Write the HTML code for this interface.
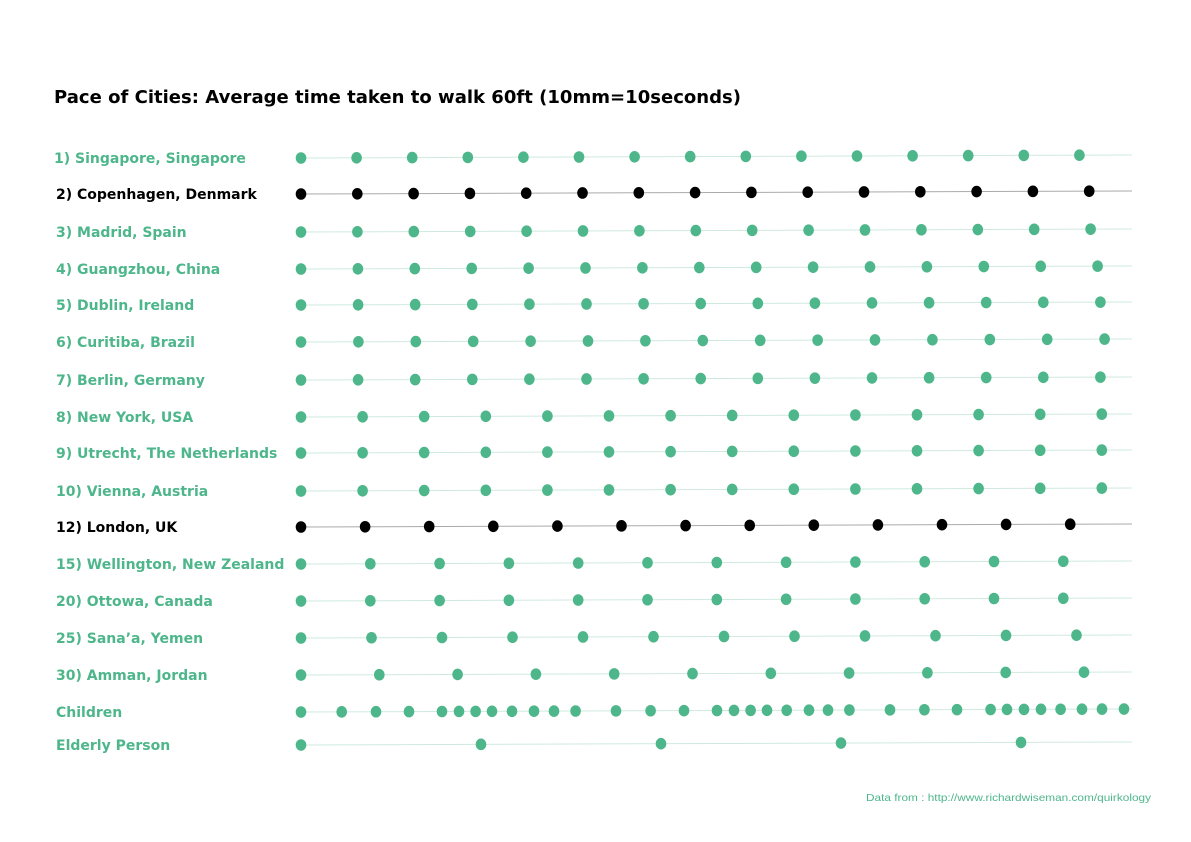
<!DOCTYPE html>
<html><head><meta charset="utf-8"><style>
body{margin:0;background:#fff;}
svg{display:block;font-family:"DejaVu Sans","Liberation Sans",sans-serif;}
</style></head><body>
<svg id="chart" width="1191" height="842">
<text x="54" y="103" font-size="18" font-weight="bold" fill="#000" textLength="687" lengthAdjust="spacingAndGlyphs">Pace of Cities: Average time taken to walk 60ft (10mm=10seconds)</text>
<text x="866" y="801" font-size="10.5" fill="#4db68a" textLength="285" lengthAdjust="spacingAndGlyphs" font-family="'Liberation Sans',sans-serif">Data from : http://www.richardwiseman.com/quirkology</text>
</svg>
<script>
const labels = ["1) Singapore, Singapore","2) Copenhagen, Denmark","3) Madrid, Spain","4) Guangzhou, China","5) Dublin, Ireland","6) Curitiba, Brazil","7) Berlin, Germany","8) New York, USA","9) Utrecht, The Netherlands","10) Vienna, Austria","12) London, UK","15) Wellington, New Zealand","20) Ottowa, Canada","25) Sana’a, Yemen","30) Amman, Jordan","Children","Elderly Person"];
const highlight = [false,true,false,false,false,false,false,false,false,false,true,false,false,false,false,false,false];
const intervals = [55.6,56.3,56.4,56.9,57.1,57.4,57.1,61.6,61.6,61.6,64.1,69.3,69.3,70.5,78.3,0,180];
const steps = [15,15,15,15,15,15,15,14,14,14,13,12,12,12,11,0,5];
const childrenTimes = [0,40.7,75,108,141,158,174.6,191,211,233,253,274.6,315,349.6,383,416,433,449.6,466,485.7,508,527,548.4,589,623.4,656,689.6,706,723,740,759.6,781,801,823];
const rowY = [158,194,232,269,305,342,380,417,453,491,527,564,601,638,675,712,745];
const x0 = 301, xEnd = 1132;
const xScale = t => x0 + t;
const svg = document.getElementById('chart');
const NS = 'http://www.w3.org/2000/svg';
const green = '#4db68a';
labels.forEach((lab,i)=>{
  const y = rowY[i];
  const col = highlight[i] ? '#000' : green;
  const t = document.createElementNS(NS,'text');
  t.setAttribute('x', i===0?54:56);
  t.setAttribute('y', y+5);
  t.setAttribute('font-size','14');
  t.setAttribute('font-weight','bold');
  t.setAttribute('fill', col);
  t.textContent = lab;
  
  
  svg.appendChild(t);
  const ln = document.createElementNS(NS,'line');
  ln.setAttribute('x1', x0); ln.setAttribute('x2', xEnd);
  ln.setAttribute('y1', y); ln.setAttribute('y2', y-3);
  ln.setAttribute('stroke', highlight[i] ? '#aaa' : '#cfe9df');
  ln.setAttribute('stroke-width','1');
  
  
  svg.appendChild(ln);
  let times = [];
  if (labels[i]==='Children') times = childrenTimes;
  else for (let k=0;k<steps[i];k++) times.push(k*intervals[i]);
  times.forEach(tm=>{
    const cx = xScale(tm);
    const c = document.createElementNS(NS,'ellipse');
    c.setAttribute('cx', cx);
    c.setAttribute('cy', y - 3*(cx-x0)/(xEnd-x0));
    c.setAttribute('rx', 5.3); c.setAttribute('ry', 5.8);
    c.setAttribute('fill', col);
    
    
    svg.appendChild(c);
  });
});
</script>
</body></html>
